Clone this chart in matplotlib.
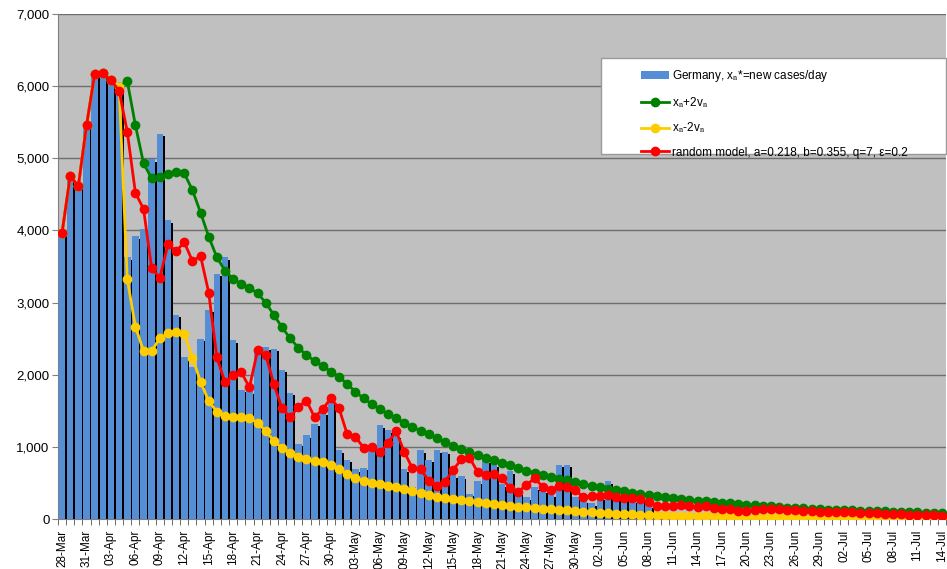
import numpy as np
import pandas as pd
import matplotlib
matplotlib.use("Agg")
import matplotlib.pyplot as plt
from matplotlib.lines import Line2D
from matplotlib.patches import Patch, Rectangle
from matplotlib.ticker import FuncFormatter

plt.rcParams['font.family'] = ['Liberation Sans', 'DejaVu Sans']
plt.rcParams['mathtext.fontset'] = 'stix'

# one category per day, 28-Mar .. 14-Jul
days = pd.date_range('2020-03-28', '2020-07-14', freq='D')
day_labels = [d.strftime('%d-%b') for d in days]

# reported new cases per day (28-Mar .. 08-Jun)
germany = [3960, 4750, 4615, 5455, 6160, 6175, 6085, 5940, 3630, 3920,
           4020, 4990, 5340, 4140, 2830, 2250, 2110, 2500, 2900, 3400,
           3630, 2480, 1790, 1770, 2330, 2380, 2360, 2070, 1750, 1040,
           1160, 1320, 1470, 1630, 950, 820, 690, 710, 980, 1300,
           1230, 1160, 690, 440, 950, 820, 950, 930, 610, 590,
           350, 520, 810, 760, 480, 660, 370, 300, 440, 390,
           340, 750, 750, 310, 250, 220, 300, 520, 350, 310,
           260, 280, 190]

# upper band x_n + 2 v_n
upper = [3968, 4754, 4615, 5456, 6163, 6177, 6085, 5990, 6070, 5460,
         4930, 4720, 4736, 4782, 4814, 4790, 4560, 4246, 3913, 3627,
         3442, 3327, 3257, 3206, 3128, 2998, 2827, 2657, 2504, 2375,
         2273, 2190, 2121, 2042, 1973, 1871, 1765, 1673, 1594, 1520,
         1455, 1395, 1335, 1280, 1220, 1174, 1118, 1063, 1012, 966,
         924, 887, 850, 813, 776, 744, 702, 670, 642, 610,
         578, 559, 541, 513, 481, 462, 439, 420, 402, 384,
         360, 346, 328, 312, 300, 290, 278, 268, 255, 245,
         235, 226, 217, 208, 199, 190, 181, 174, 166, 159,
         152, 146, 141, 136, 131, 126, 122, 118, 114, 110,
         107, 104, 100, 97, 94, 92, 89, 87, 85]

# lower band x_n - 2 v_n
lower = [3968, 4754, 4615, 5456, 6163, 6177, 6085, 5990, 3327, 2666,
         2328, 2333, 2504, 2573, 2587, 2564, 2236, 1903, 1635, 1487,
         1428, 1418, 1409, 1404, 1330, 1220, 1081, 979, 910, 855,
         827, 808, 785, 744, 689, 624, 573, 531, 504, 485,
         462, 439, 416, 388, 356, 333, 310, 291, 275, 263,
         249, 231, 217, 203, 194, 180, 171, 162, 152, 143,
         134, 125, 120, 111, 102, 97, 88, 83, 74, 69,
         65, 60, 55, 51, 49, 47, 45, 43, 41, 39,
         38, 36, 35, 33, 32, 31, 30, 29, 28, 27,
         26, 25, 24, 23, 22, 22, 21, 20, 20, 19,
         18, 18, 17, 17, 16, 16, 15, 15, 14]

# random model run
model = [3968, 4754, 4615, 5456, 6163, 6177, 6085, 5936, 5369, 4523,
         4297, 3474, 3345, 3807, 3714, 3835, 3576, 3645, 3137, 2241,
         1895, 1996, 2033, 1825, 2338, 2273, 1867, 1534, 1409, 1557,
         1640, 1409, 1525, 1673, 1534, 1174, 1141, 989, 1003, 924,
         1049, 1220, 933, 702, 693, 531, 462, 517, 679, 827,
         850, 656, 610, 619, 564, 425, 379, 471, 564, 448,
         402, 462, 448, 402, 300, 323, 323, 333, 300, 286,
         296, 273, 235, 185, 185, 180, 189, 180, 162, 180,
         148, 134, 134, 115, 115, 125, 134, 134, 134, 130,
         125, 115, 111, 102, 102, 97, 92, 92, 88, 79,
         79, 74, 69, 65, 55, 55, 51, 51, 46]

legend_labels = ['Germany, x$_\\mathrm{n}$*=new cases/day',
                 'x$_\\mathrm{n}$+2v$_\\mathrm{n}$',
                 'x$_\\mathrm{n}$-2v$_\\mathrm{n}$',
                 'random model, a=0.218, b=0.355, q=7, ε=0.2']

BLUE = '#558ED5'
GREEN = '#008000'
GOLD = '#FFCC00'
RED = '#FF0000'

fig = plt.figure(figsize=(9.47, 5.69), dpi=100)
ax = fig.add_axes([58 / 947, 50 / 569, 888 / 947, 505 / 569])
ax.set_facecolor('#C0C0C0')

x = np.arange(len(days))
xb = np.arange(len(germany))

# bars with a dark drop shadow on the right
ax.bar(xb + 0.22, np.array(germany) - 35, width=0.8, color='black', zorder=2)
ax.bar(xb, germany, width=0.8, color=BLUE, zorder=3)

line_kw = dict(marker='o', markersize=6, linewidth=2, zorder=4)
ax.plot(x, upper, color=GREEN, **line_kw)
ax.plot(x, lower, color=GOLD, **line_kw)
ax.plot(x, model, color=RED, **line_kw)

ax.set_xlim(-0.5, len(days) - 0.5)
ax.set_ylim(0, 7000)
ax.set_yticks(np.arange(0, 7001, 1000))
ax.yaxis.set_major_formatter(FuncFormatter(lambda v, p: f'{v:,.0f}'))
ax.yaxis.grid(True, color='#6E6E6E', linewidth=1.0)
ax.set_axisbelow(True)

ax.set_xticks(x[::3])
ax.set_xticklabels(day_labels[::3], rotation=90, fontsize=8.5)
ax.set_xticks(np.arange(-0.5, len(days), 1), minor=True)
ax.tick_params(axis='x', which='major', length=0, pad=8)
ax.tick_params(axis='x', which='minor', length=4, color='#555555')
ax.tick_params(axis='y', length=4, color='#808080', labelsize=9.5, pad=2)

for side in ('top', 'right'):
    ax.spines[side].set_visible(False)
ax.spines['left'].set_color('#808080')
ax.spines['bottom'].set_color('#808080')

# legend box
fig.add_artist(Rectangle((601 / 947, 1 - 154 / 569), 345 / 947, 96 / 569,
                         transform=fig.transFigure, facecolor='white',
                         edgecolor='#9A9A9A', linewidth=1, zorder=5))
handles = [Patch(facecolor=BLUE, edgecolor='none'),
           Line2D([], [], color=GREEN, marker='o', markersize=6, linewidth=2),
           Line2D([], [], color=GOLD, marker='o', markersize=6, linewidth=2),
           Line2D([], [], color=RED, marker='o', markersize=6, linewidth=2)]
leg = fig.legend(handles, legend_labels, loc='upper left',
                 bbox_to_anchor=(635 / 947, 1 - 62 / 569), frameon=False,
                 fontsize=8.5, borderpad=0, handlelength=2.4,
                 handletextpad=0.2, labelspacing=0.95)
leg.set_zorder(6)

fig.savefig('out.png', dpi=100)
